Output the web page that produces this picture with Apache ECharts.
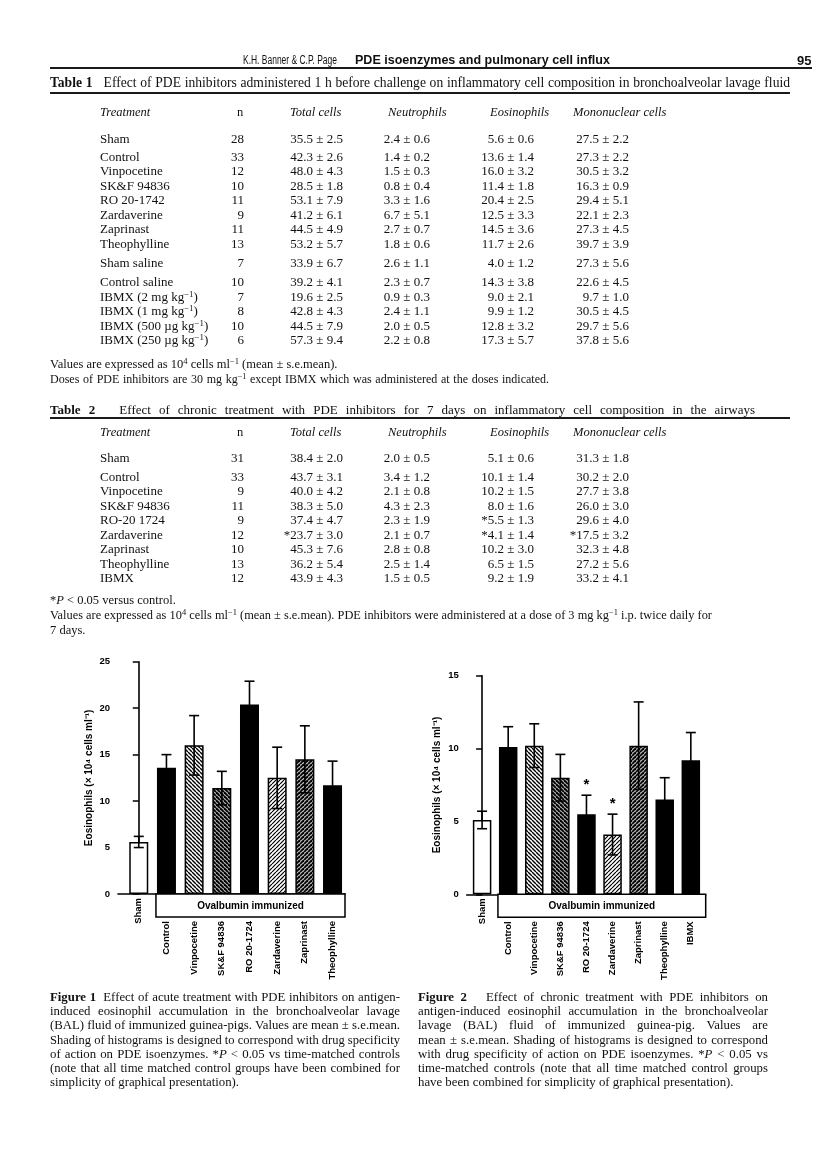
<!DOCTYPE html>
<html><head><meta charset="utf-8">
<script src="https://cdn.jsdelivr.net/npm/echarts@6/dist/echarts.min.js"></script>
<style>
html,body{margin:0;padding:0;background:#fff;}
#page{position:relative;width:816px;height:1156px;overflow:hidden;background:#fff;}
#chart{position:absolute;left:0;top:0;width:816px;height:1156px;}
#text{position:absolute;left:0;top:0;width:816px;height:1156px;pointer-events:none;font-family:"Liberation Serif","Times New Roman",serif;color:#111;}
.t{position:absolute;white-space:nowrap;line-height:1;}
.rule{position:absolute;background:#1a1a1a;}
sup{font-size:0.68em;line-height:0;vertical-align:0.5em;}
</style></head>
<body><div id="page"><div id="chart"></div><div id="text"></div></div>
<script>
// ---------- DATA ----------
const t1Treatment = ["Sham","Control","Vinpocetine","SK&amp;F 94836","RO 20-1742","Zardaverine","Zaprinast","Theophylline","Sham saline","Control saline","IBMX (2 mg kg<sup>−1</sup>)","IBMX (1 mg kg<sup>−1</sup>)","IBMX (500 µg kg<sup>−1</sup>)","IBMX (250 µg kg<sup>−1</sup>)"];
const t1N = [28,33,12,10,11,9,11,13,7,10,7,8,10,6];
const t1Total = ["35.5 ± 2.5","42.3 ± 2.6","48.0 ± 4.3","28.5 ± 1.8","53.1 ± 7.9","41.2 ± 6.1","44.5 ± 4.9","53.2 ± 5.7","33.9 ± 6.7","39.2 ± 4.1","19.6 ± 2.5","42.8 ± 4.3","44.5 ± 7.9","57.3 ± 9.4"];
const t1Neut = ["2.4 ± 0.6","1.4 ± 0.2","1.5 ± 0.3","0.8 ± 0.4","3.3 ± 1.6","6.7 ± 5.1","2.7 ± 0.7","1.8 ± 0.6","2.6 ± 1.1","2.3 ± 0.7","0.9 ± 0.3","2.4 ± 1.1","2.0 ± 0.5","2.2 ± 0.8"];
const t1Eos = ["5.6 ± 0.6","13.6 ± 1.4","16.0 ± 3.2","11.4 ± 1.8","20.4 ± 2.5","12.5 ± 3.3","14.5 ± 3.6","11.7 ± 2.6","4.0 ± 1.2","14.3 ± 3.8","9.0 ± 2.1","9.9 ± 1.2","12.8 ± 3.2","17.3 ± 5.7"];
const t1Mono = ["27.5 ± 2.2","27.3 ± 2.2","30.5 ± 3.2","16.3 ± 0.9","29.4 ± 5.1","22.1 ± 2.3","27.3 ± 4.5","39.7 ± 3.9","27.3 ± 5.6","22.6 ± 4.5","9.7 ± 1.0","30.5 ± 4.5","29.7 ± 5.6","37.8 ± 5.6"];

const t2Treatment = ["Sham","Control","Vinpocetine","SK&amp;F 94836","RO-20 1724","Zardaverine","Zaprinast","Theophylline","IBMX"];
const t2N = [31,33,9,11,9,12,10,13,12];
const t2Total = ["38.4 ± 2.0","43.7 ± 3.1","40.0 ± 4.2","38.3 ± 5.0","37.4 ± 4.7","*23.7 ± 3.0","45.3 ± 7.6","36.2 ± 5.4","43.9 ± 4.3"];
const t2Neut = ["2.0 ± 0.5","3.4 ± 1.2","2.1 ± 0.8","4.3 ± 2.3","2.3 ± 1.9","2.1 ± 0.7","2.8 ± 0.8","2.5 ± 1.4","1.5 ± 0.5"];
const t2Eos = ["5.1 ± 0.6","10.1 ± 1.4","10.2 ± 1.5","8.0 ± 1.6","*5.5 ± 1.3","*4.1 ± 1.4","10.2 ± 3.0","6.5 ± 1.5","9.2 ± 1.9"];
const t2Mono = ["31.3 ± 1.8","30.2 ± 2.0","27.7 ± 3.8","26.0 ± 3.0","29.6 ± 4.0","*17.5 ± 3.2","32.3 ± 4.8","27.2 ± 5.6","33.2 ± 4.1"];

const fig1Categories = ["Sham","Control","Vinpocetine","SK&F 94836","RO 20-1724","Zardaverine","Zaprinast","Theophylline"];
const fig1Means = [5.6,13.6,16.0,11.4,20.4,12.5,14.5,11.7];
const fig1Sem = [0.6,1.4,3.2,1.8,2.5,3.3,3.6,2.6];
const fig1Fill = ["open","solid","backLight","backDark","solid","fwdLight","fwdDark","solid"];
const fig1Sig = [0,0,0,0,0,0,0,0];

const fig2Categories = ["Sham","Control","Vinpocetine","SK&F 94836","RO 20-1724","Zardaverine","Zaprinast","Theophylline","IBMX"];
const fig2Means = [5.1,10.1,10.2,8.0,5.5,4.1,10.2,6.5,9.2];
const fig2Sem = [0.6,1.4,1.5,1.6,1.3,1.4,3.0,1.5,1.9];
const fig2Fill = ["open","solid","backLight","backDark","solid","fwdLight","fwdDark","solid","solid"];
const fig2Sig = [0,0,0,0,1,1,0,0,0];

const groupLabel = "Ovalbumin immunized";
const yAxisTitle = "Eosinophils (× 10⁴ cells ml⁻¹)";

const caption1 = [
 "<b>Figure 1</b>&nbsp; Effect of acute treatment with PDE inhibitors on antigen-",
 "induced eosinophil accumulation in the bronchoalveolar lavage",
 "(BAL) fluid of immunized guinea-pigs. Values are mean ± s.e.mean.",
 "Shading of histograms is designed to correspond with drug specificity",
 "of action on PDE isoenzymes. *<i>P</i> &lt; 0.05 vs time-matched controls",
 "(note that all time matched control groups have been combined for",
 "simplicity of graphical presentation)."
];
const caption2 = [
 "<b>Figure 2</b>&nbsp;&nbsp; Effect of chronic treatment with PDE inhibitors on",
 "antigen-induced eosinophil accumulation in the bronchoalveolar",
 "lavage (BAL) fluid of immunized guinea-pig. Values are",
 "mean ± s.e.mean. Shading of histograms is designed to correspond",
 "with drug specificity of action on PDE isoenzymes. *<i>P</i> &lt; 0.05 vs",
 "time-matched controls (note that all time matched control groups",
 "have been combined for simplicity of graphical presentation)."
];

// ---------- TEXT LAYOUT ----------
const TX = document.getElementById('text');
function put(html, o){
  const d = document.createElement('div');
  d.className = 't';
  d.innerHTML = html;
  const size = o.size || 13;
  d.style.fontSize = size + 'px';
  if (o.bold) d.style.fontWeight = 'bold';
  if (o.italic) d.style.fontStyle = 'italic';
  if (o.family) d.style.fontFamily = o.family;
  d.style.top = (o.y - size * 0.5) + 'px';
  TX.appendChild(d);
  const nat = d.getBoundingClientRect().width;
  if (o.align === 'right') {
    d.style.left = (o.x - nat) + 'px';
  } else if (o.align === 'center') {
    d.style.left = (o.x - nat / 2) + 'px';
  } else {
    d.style.left = o.x + 'px';
  }
  if (o.w) {
    if (o.justify && nat < o.w) {
      d.style.whiteSpace = 'normal';
      d.style.width = o.w + 'px';
      d.style.textAlign = 'justify';
      d.style.textAlignLast = 'justify';
    } else {
      d.style.transformOrigin = '0 0';
      d.style.transform = 'scaleX(' + (o.w / nat) + ')';
    }
  }
  return d;
}
function rule(x1, x2, y, h){
  const r = document.createElement('div'); r.className = 'rule';
  r.style.left = x1 + 'px'; r.style.width = (x2 - x1) + 'px';
  r.style.top = (y - h / 2) + 'px'; r.style.height = h + 'px';
  TX.appendChild(r);
}
const SANS = '"Liberation Sans Narrow","Liberation Sans",Arial,sans-serif';
// running header
put("K.H. Banner &amp; C.P. Page", {x:243, y:60, size:12, family:SANS, w:94});
put("PDE isoenzymes and pulmonary cell influx", {x:355, y:60, size:12, family:SANS, bold:true, w:255});
put("95", {x:797, y:60, size:13, family:SANS, bold:true});
rule(50, 812, 68, 1.6);

// Table 1
put("<b>Table 1</b>&nbsp;&nbsp; Effect of PDE inhibitors administered 1 h before challenge on inflammatory cell composition in bronchoalveolar lavage fluid", {x:50, y:83, size:13.6, w:740, justify:true});
rule(50, 790, 93, 1.6);
const colHead = [["<i>Treatment</i>",0,'l'],["n",240,'c'],["<i>Total cells</i>",290,'l'],["<i>Neutrophils</i>",388,'l'],["<i>Eosinophils</i>",490,'l'],["<i>Mononuclear cells</i>",573,'l']];
function tableHead(y, x0){
  colHead.forEach(c => put(c[0], {x: c[1] === 0 ? x0 : c[1], y, size:12.5, align: c[2] === 'c' ? 'center' : 'left'}));
}
function tableRows(rowsY, x0, tr, n, tot, neu, eos, mono){
  rowsY.forEach((y, i) => {
    put(tr[i], {x:x0, y});
    put(String(n[i]), {x:244, y, align:'right'});
    put(tot[i], {x:343, y, align:'right'});
    put(neu[i], {x:430, y, align:'right'});
    put(eos[i], {x:534, y, align:'right'});
    put(mono[i], {x:629, y, align:'right'});
  });
}
tableHead(112, 100);
tableRows([138,156,170,185,199,214,228,243,262,281,296,310,325,339], 100, t1Treatment, t1N, t1Total, t1Neut, t1Eos, t1Mono);
put("Values are expressed as 10<sup>4</sup> cells ml<sup>−1</sup> (mean ± s.e.mean).", {x:50, y:364, size:12.5});
put("Doses of PDE inhibitors are 30 mg kg<sup>−1</sup> except IBMX which was administered at the doses indicated.", {x:50, y:379, size:12, w:499, justify:true});

// Table 2
put("<b>Table 2</b>&nbsp;&nbsp; Effect of chronic treatment with PDE inhibitors for 7 days on inflammatory cell composition in the airways", {x:50, y:409, w:705, justify:true});
rule(50, 790, 418, 1.6);
tableHead(432, 100);
tableRows([457,476,490,505,519,534,548,563,577], 100, t2Treatment, t2N, t2Total, t2Neut, t2Eos, t2Mono);
put("*<i>P</i> &lt; 0.05 versus control.", {x:50, y:600, size:12.5});
put("Values are expressed as 10<sup>4</sup> cells ml<sup>−1</sup> (mean ± s.e.mean). PDE inhibitors were administered at a dose of 3 mg kg<sup>−1</sup> i.p. twice daily for", {x:50, y:615, size:12.5, w:662, justify:true});
put("7 days.", {x:50, y:630, size:12.5});

// captions
caption1.forEach((l, i) => put(l, {x:50, y:997 + i * 14.3, size:12.8, w: i < caption1.length - 1 ? 350 : 0, justify:true}));
caption2.forEach((l, i) => put(l, {x:418, y:997 + i * 14.3, size:12.8, w: i < caption2.length - 1 ? 350 : 0, justify:true}));

// ---------- CHART ----------
function hatch(dir, period, lw, bg){
  const c = document.createElement('canvas');
  c.width = period; c.height = period;
  const g = c.getContext('2d');
  g.fillStyle = bg; g.fillRect(0, 0, period, period);
  g.strokeStyle = '#000'; g.lineWidth = lw;
  for (let k = -period; k <= period; k += period) {
    g.beginPath();
    if (dir === 'back') { g.moveTo(k, 0); g.lineTo(k + period, period); }
    else { g.moveTo(k + period, 0); g.lineTo(k, period); }
    g.stroke();
  }
  return {image: c, repeat: 'repeat'};
}
const FILLS = {
  open: '#ffffff',
  solid: '#000000',
  backLight: hatch('back', 4, 1.4, '#ffffff'),
  backDark: hatch('back', 4, 1.9, '#b0b0b0'),
  fwdLight: hatch('fwd', 4, 1.2, '#ffffff'),
  fwdDark: hatch('fwd', 4, 1.8, '#b8b8b8')
};
const FONT = '"Liberation Sans", Arial, sans-serif';

function errRender(params, api){
  const x = api.value(0), m = api.value(1), s = api.value(2), sig = api.value(3);
  const top = api.coord([x, m + s]), bot = api.coord([x, m - s]);
  const hw = 5, st = {stroke:'#000', lineWidth:1.6};
  const ch = [
    {type:'line', shape:{x1:top[0], y1:top[1], x2:bot[0], y2:bot[1]}, style:st},
    {type:'line', shape:{x1:top[0]-hw, y1:top[1], x2:top[0]+hw, y2:top[1]}, style:st},
    {type:'line', shape:{x1:bot[0]-hw, y1:bot[1], x2:bot[0]+hw, y2:bot[1]}, style:st}
  ];
  if (sig) ch.push({type:'text', x: top[0], y: top[1] - 3, style:{text:'*', align:'center', verticalAlign:'bottom', font:'bold 15px ' + FONT, fill:'#000'}});
  return {type:'group', children: ch};
}

const figs = [
  {cats: fig1Categories, means: fig1Means, sem: fig1Sem, fill: fig1Fill, sig: fig1Sig,
   grid:{left:118, top:661.7, width:227, height:232.3}, xmin:-0.75, xmax:7.45, ymax:25, barW:19, nameGap:24},
  {cats: fig2Categories, means: fig2Means, sem: fig2Sem, fill: fig2Fill, sig: fig2Sig,
   grid:{left:466.7, top:675.7, width:239, height:218.6}, xmin:-0.59, xmax:8.57, ymax:15, barW:18.5, nameGap:24}
];

const chart = echarts.init(document.getElementById('chart'));
const option = {
  animation: false,
  backgroundColor: 'transparent',
  grid: figs.map(f => Object.assign({containLabel:false}, f.grid)),
  xAxis: figs.map((f, i) => ({
    type:'value', gridIndex:i, min:f.xmin, max:f.xmax,
    axisLine:{show:true, onZero:false, lineStyle:{color:'#000', width:1.6}},
    axisTick:{show:false}, axisLabel:{show:false}, splitLine:{show:false}
  })),
  yAxis: figs.map((f, i) => ({
    type:'value', gridIndex:i, min:0, max:f.ymax, interval:5,
    axisLine:{show:true, lineStyle:{color:'#000', width:1.6}},
    axisTick:{show:true, length:6, lineStyle:{color:'#000', width:1.5}},
    axisLabel:{color:'#000', fontFamily:FONT, fontWeight:'bold', fontSize:9.5, margin:8},
    splitLine:{show:false},
    name: yAxisTitle, nameLocation:'middle', nameRotate:90, nameGap:f.nameGap,
    nameTextStyle:{color:'#000', fontFamily:FONT, fontWeight:'bold', fontSize:10}
  })),
  series: []
};
figs.forEach((f, i) => {
  option.series.push({
    type:'bar', xAxisIndex:i, yAxisIndex:i, barWidth:f.barW,
    itemStyle:{borderColor:'#000', borderWidth:1.5},
    data: f.means.map((m, j) => ({value:[j, m], itemStyle:{color: FILLS[f.fill[j]]}}))
  });
  option.series.push({
    type:'custom', xAxisIndex:i, yAxisIndex:i, z:5, renderItem: errRender,
    data: f.means.map((m, j) => [j, m, f.sem[j], f.sig[j]])
  });
});
chart.setOption(option);

// group box and rotated category labels, placed through the axes' own scales
const gfx = [];
figs.forEach((f, i) => {
  const finder = {xAxisIndex:i, yAxisIndex:i};
  const base = chart.convertToPixel(finder, [0, 0]);
  const y0 = base[1];
  const xFirst = chart.convertToPixel(finder, [1, 0])[0] - f.barW / 2 - 1;
  const xEnd = chart.convertToPixel(finder, [f.xmax, 0])[0];
  const boxH = 23;
  gfx.push({type:'rect', shape:{x:xFirst, y:y0, width:xEnd - xFirst, height:boxH},
            style:{fill:'#fff', stroke:'#000', lineWidth:1.5}, z:10});
  gfx.push({type:'text', x:(xFirst + xEnd) / 2, y:y0 + boxH / 2 + 0.5, z:11,
            style:{text:groupLabel, align:'center', verticalAlign:'middle', font:'bold 10px ' + FONT, fill:'#000'}});
  f.cats.forEach((c, j) => {
    const px = chart.convertToPixel(finder, [j, 0])[0];
    const top = j === 0 ? y0 + 4 : y0 + boxH + 4;
    gfx.push({type:'text', x:px, y:top, rotation:Math.PI / 2, z:11,
              style:{text:c, align:'right', verticalAlign:'middle', font:'bold 9.5px ' + FONT, fill:'#000'}});
  });
});
chart.setOption({graphic: gfx});
</script>
</body></html>
